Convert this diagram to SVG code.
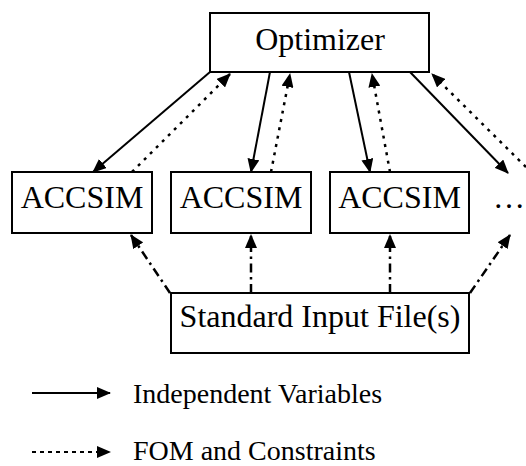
<svg xmlns="http://www.w3.org/2000/svg" width="526" height="466" viewBox="0 0 526 466">
<style>
.box{fill:#fff;stroke:#000;stroke-width:2}
.t{font-family:'Liberation Serif','Times New Roman',Times,'Nimbus Roman','DejaVu Serif',serif;font-size:32px;fill:#000;text-anchor:middle}
.lg{font-family:'Liberation Serif','Times New Roman',Times,'Nimbus Roman','DejaVu Serif',serif;font-size:28px;fill:#000}
.solid{stroke:#000;stroke-width:2;fill:none;marker-end:url(#ah)}
.dot{stroke:#000;stroke-width:2.5;fill:none;stroke-dasharray:3 5.5;marker-end:url(#ah)}
.dd{stroke:#000;stroke-width:2.5;fill:none;stroke-dasharray:9 4.5 2.5 4.5;marker-end:url(#ah)}
.lsolid{stroke:#000;stroke-width:2;fill:none;marker-end:url(#ah)}
.ldot{stroke:#000;stroke-width:2;fill:none;stroke-dasharray:4 4;marker-end:url(#ah)}
</style>
<defs>
<marker id="ah" markerUnits="userSpaceOnUse" markerWidth="14" markerHeight="12" viewBox="0 0 14 12" refX="13" refY="6" orient="auto">
<path d="M0,0 L14,6 L0,12 Z" fill="#000"/>
</marker>
</defs>
<g id="optimizer"><rect class="box" x="210" y="13" width="219" height="59"/><text class="t" x="320" y="50">Optimizer</text></g>
<g id="accsim1"><rect class="box" x="12" y="172" width="140" height="61"/><text class="t" x="82" y="208">ACCSIM</text></g>
<g id="accsim2"><rect class="box" x="171" y="172" width="140" height="61"/><text class="t" x="241" y="208">ACCSIM</text></g>
<g id="accsim3"><rect class="box" x="330" y="172" width="139" height="61"/><text class="t" x="399.5" y="208">ACCSIM</text></g>
<g id="ellipsis"><text class="t" x="509" y="208" font-size="30">…</text></g>
<g id="input"><rect class="box" x="171" y="293" width="298" height="60"/><text class="t" x="320" y="327">Standard Input File(s)</text></g>
<g id="connectors">
<line class="solid" x1="210" y1="72" x2="93" y2="172"/>
<line class="dot" x1="132" y1="172" x2="230" y2="74"/>
<line class="solid" x1="270" y1="72" x2="251" y2="172"/>
<line class="dot" x1="271" y1="172" x2="290" y2="74"/>
<line class="solid" x1="349" y1="72" x2="370" y2="172"/>
<line class="dot" x1="390" y1="172" x2="372" y2="74"/>
<line class="solid" x1="410" y1="72" x2="508" y2="173"/>
<line class="dot" x1="532" y1="173" x2="432" y2="74"/>
<line class="dd" x1="170" y1="293" x2="131" y2="235"/>
<line class="dd" x1="251" y1="293" x2="251" y2="235"/>
<line class="dd" x1="390" y1="293" x2="390" y2="235"/>
<line class="dd" x1="470" y1="293" x2="510" y2="235"/>
</g>
<g id="legend">
<line class="lsolid" x1="32" y1="393" x2="110" y2="393"/>
<text class="lg" x="133" y="403">Independent Variables</text>
<line class="ldot" x1="32" y1="452" x2="110" y2="452"/>
<text class="lg" x="133" y="460">FOM and Constraints</text>
</g>
</svg>
